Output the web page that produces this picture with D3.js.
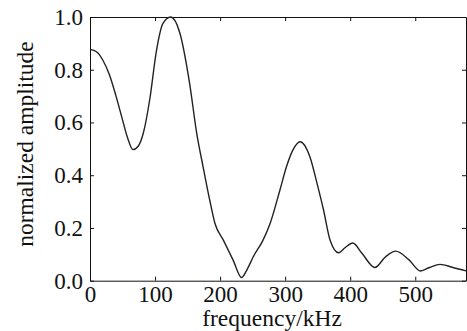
<!DOCTYPE html>
<html>
<head>
<meta charset="utf-8">
<script src="https://cdn.jsdelivr.net/npm/d3@7"></script>
<style>
  body { margin: 0; background: #fff; }
  svg { display: block; }
  .axis path, .axis line { stroke: #111; stroke-width: 1; }
  .label { font-family: "Liberation Serif", "Times New Roman", serif; font-size: 23.5px; fill: #111; }
</style>
</head>
<body>
<svg id="chart" width="467" height="331"></svg>
<script>
// values
const freq = [0, 10, 20, 30, 40, 50, 58, 66, 74, 82, 92, 102, 112, 124, 138, 153, 164, 174, 184, 192, 205, 220,
              233, 242, 251, 266, 277, 292, 302, 312, 323, 338, 349, 359, 369, 382, 392, 404, 418, 438,
              454, 470, 490, 508, 522, 538, 558, 578];
const amp = [0.877, 0.868, 0.835, 0.78, 0.70, 0.61, 0.54, 0.497, 0.51, 0.56, 0.69, 0.87, 0.975, 1.0, 0.94, 0.75, 0.56,
             0.43, 0.306, 0.218, 0.154, 0.078, 0.012, 0.045, 0.091, 0.154, 0.218, 0.344, 0.432, 0.496,
             0.527, 0.47, 0.369, 0.268, 0.154, 0.106, 0.125, 0.143, 0.104, 0.05, 0.09, 0.112, 0.08,
             0.037, 0.05, 0.062, 0.05, 0.037];
const xTicks = [0, 100, 200, 300, 400, 500];
const yTicks = [0, 0.2, 0.4, 0.6, 0.8, 1.0];

const margin = {left: 90, right: 1, top: 17, bottom: 50};
const svg = d3.select("#chart");
const W = +svg.attr("width"), H = +svg.attr("height");

const x = d3.scaleLinear().domain([0, 578]).range([margin.left, W - margin.right]);
const y = d3.scaleLinear().domain([0, 1]).range([H - margin.bottom - 0.3, margin.top]);

const fmt = d3.format(".1f");

function serif(g) {
    g.attr("font-family", "'Liberation Serif', 'Times New Roman', serif")
     .attr("font-size", 23);
    g.selectAll("text").attr("fill", "#111");
}

svg.append("g").attr("class", "axis")
    .attr("transform", `translate(0,${y(0)})`)
    .call(d3.axisBottom(x).tickValues(xTicks).tickSizeInner(-4).tickSizeOuter(0).tickPadding(5))
    .call(serif);
svg.append("g").attr("class", "axis")
    .attr("transform", `translate(0,${y(1)})`)
    .call(d3.axisTop(x).tickValues(xTicks).tickSizeInner(-4).tickSizeOuter(0).tickFormat(""));
svg.append("g").attr("class", "axis")
    .attr("transform", `translate(${x(0)},0)`)
    .call(d3.axisLeft(y).tickValues(yTicks).tickFormat(fmt).tickSizeInner(-4).tickSizeOuter(0).tickPadding(7))
    .call(serif);
svg.append("g").attr("class", "axis")
    .attr("transform", `translate(${x(578)},0)`)
    .call(d3.axisRight(y).tickValues(yTicks).tickSizeInner(-4).tickSizeOuter(0).tickFormat(""));

const line = d3.line()
    .x((d, i) => x(freq[i]))
    .y(d => y(d))
    .curve(d3.curveMonotoneX);

svg.append("path")
    .datum(amp)
    .attr("fill", "none")
    .attr("stroke", "#222")
    .attr("stroke-width", 1.4)
    .attr("d", line);

svg.append("text").attr("class", "label")
    .attr("x", 272).attr("y", 326)
    .attr("text-anchor", "middle")
    .text("frequency/kHz");

svg.append("text").attr("class", "label")
    .attr("transform", `translate(33,144) rotate(-90)`)
    .attr("text-anchor", "middle")
    .text("normalized amplitude");
</script>
</body>
</html>
